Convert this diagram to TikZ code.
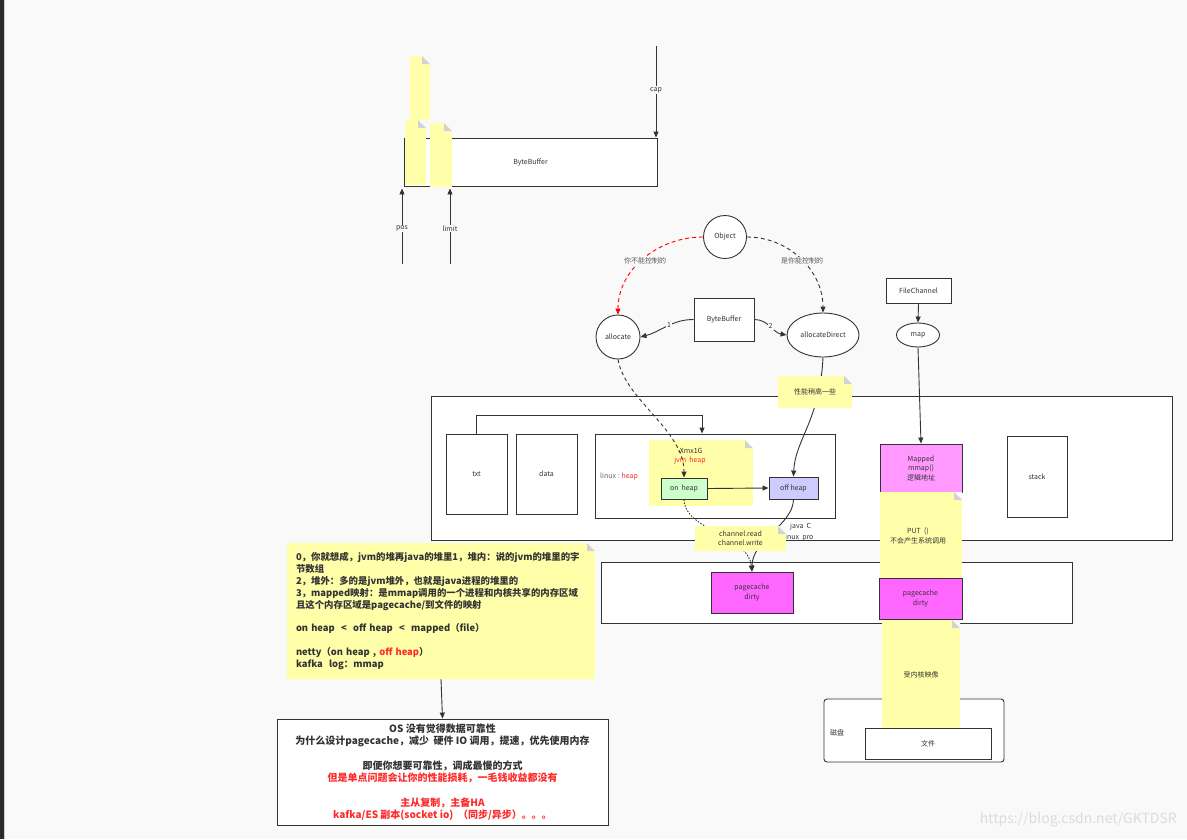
\documentclass[tikz,border=0pt]{standalone}
\usepackage{fontspec}
\setmainfont{Noto Sans CJK SC}
\usetikzlibrary{shapes.geometric,arrows.meta}
\definecolor{bgc}{HTML}{F9F9F9}
\definecolor{linec}{HTML}{333333}
\definecolor{notey}{HTML}{FFFFAA}
\definecolor{foldc}{HTML}{D2D2D2}
\definecolor{redc}{HTML}{FF2A2A}
\definecolor{onheapc}{HTML}{CCFFCC}
\definecolor{offheapc}{HTML}{CCCCFF}
\definecolor{mappedc}{HTML}{FF99FF}
\definecolor{pagec}{HTML}{FF66FF}
\definecolor{wmc}{HTML}{DCDCDC}
\definecolor{stripc}{HTML}{2A2A2A}
\begin{document}
\begin{tikzpicture}[x=1pt,y=-1pt,
  font=\fontsize{7}{9.5}\selectfont,
  box/.style={draw=linec, line width=0.9pt, fill=white, inner sep=0pt, text=linec, align=center},
  stickynote/.style={fill=notey, draw=none, inner sep=0pt, text=linec, align=center,
    path picture={
      \fill[#1] ([xshift=-8pt]path picture bounding box.north east) -- (path picture bounding box.north east) -- ([yshift=-8pt]path picture bounding box.north east) -- cycle;
      \fill[foldc] ([xshift=-8pt]path picture bounding box.north east) -- ([xshift=-8pt,yshift=-8pt]path picture bounding box.north east) -- ([yshift=-8pt]path picture bounding box.north east) -- cycle;
    }},
  stickynote/.default=bgc,
  arr/.style={-{Triangle[length=6pt,width=5pt]}, draw=linec, line width=0.9pt},
  lbl/.style={inner sep=1pt, text=linec}
]
\useasboundingbox (0,0) rectangle (1187,839);
\fill[bgc] (0,0) rectangle (1187,839);
\fill[stripc] (0,0) rectangle (4,839);
\fill[black!20] (4,0) rectangle (5,839);

% ---------- top ByteBuffer ----------
\node[box, minimum width=253pt, minimum height=48pt] (bb) at (530.5,162) {ByteBuffer};
\node[stickynote, minimum width=20pt, minimum height=64pt] (n1) at (420,88) {};
\node[stickynote, minimum width=21pt, minimum height=65pt] (n2) at (415.5,152.5) {};
\node[stickynote, minimum width=22pt, minimum height=64pt] (n3) at (441,155) {};
\coordinate (capT) at (656,46);
\coordinate (posB) at (402,264);
\coordinate (limB) at (450,264);
\draw[arr] (capT) -- (capT |- bb.north) node[pos=0.48, lbl, fill=bgc] {cap};
\draw[arr] (posB) -- ([yshift=-2pt]posB |- bb.south) node[pos=0.47, lbl, fill=bgc] {pos};
\draw[arr] (limB) -- ([yshift=-2pt]limB |- bb.south) node[pos=0.47, lbl, fill=bgc] {limit};

% ---------- Object / allocate ----------
\node[box, circle, minimum size=43pt] (obj) at (725,237) {Object};
\node[box, circle, minimum size=44pt] (alloc) at (618,337) {allocate};
\node[box, minimum width=60pt, minimum height=43pt] (bb2) at (724,319.5) {ByteBuffer};
\node[box, ellipse, minimum width=72pt, minimum height=44pt] (ad) at (823,335) {allocateDirect};
\draw[arr] (bb2.west) to[out=180, in=15] node[pos=0.45, lbl, fill=bgc] {1} (alloc.east);
\draw[arr] (bb2.east) to[out=0, in=170] node[pos=0.5, lbl, fill=bgc] {2} (ad.west);
\draw[arr, draw=red, dash pattern=on 4pt off 3pt, -{Triangle[length=6pt,width=5pt,fill=red]}] (obj.west) to[out=180, in=90] (alloc.north);
\draw[arr, dash pattern=on 4pt off 3pt] (obj.east) to[out=0, in=90] (ad.north);
\node[lbl, fill=bgc, text=black!65] (lblA) at (645,261) {你不能控制的};
\node[lbl, fill=bgc, text=black!65] (lblB) at (802,261) {是你能控制的};

% ---------- big memory box ----------
\node[box, minimum width=741pt, minimum height=144pt] (big) at (801.5,468) {};
\node[box, minimum width=61pt, minimum height=80pt] (txt) at (476.5,474) {txt};
\node[box, minimum width=61pt, minimum height=80pt] (data) at (546.5,474) {data};
\node[box, minimum width=240pt, minimum height=84pt] (linux) at (715,476) {};
\draw[arr] (txt.north) -- ++(0,-18) -| ([xshift=-13pt]linux.north);
\node[lbl, anchor=west, text=black!60] (linuxlbl) at (599,477) {linux : {\color{redc}heap}};
\node[stickynote=white, minimum width=104pt, minimum height=66pt] (xnote) at (701,473) {};
\node[lbl, align=center] (xmx) at (690,456) {-Xmx1G\\{\color{redc}jvm\ \ heap}};
\node[box, fill=onheapc, minimum width=46pt, minimum height=21pt] (onheap) at (684,488.5) {on\ \ heap};
\node[box, fill=offheapc, minimum width=49pt, minimum height=22pt] (offheap) at (793.5,488) {off heap};
\node[box, minimum width=60pt, minimum height=81pt] (stack) at (1037,476.5) {stack};
\node[box, fill=mappedc, minimum width=82pt, minimum height=48pt] (mapped) at (921,468) {Mapped\\mmap()\\逻辑地址};
\node[box, minimum width=65pt, minimum height=25pt] (fc) at (918.5,290.5) {FileChannel};
\node[box, ellipse, minimum width=43pt, minimum height=24pt] (map) at (918,335) {map};

% ---------- pagecache box ----------
\node[box, minimum width=471pt, minimum height=61pt] (lower) at (836.5,592.5) {};
\node[box, fill=pagec, minimum width=82pt, minimum height=41pt] (pc1) at (752,592.5) {pagecache\\dirty};

% ---------- connectors ----------
\draw[arr, dash pattern=on 3.5pt off 3pt] (alloc.south) .. controls (625,400) and (684,430) .. (onheap.north);
\draw[arr] (ad.south) .. controls (820,420) and (795,440) .. (offheap.north);
\draw[arr] (onheap.east) -- (offheap.west);
\draw[arr, dash pattern=on 1.5pt off 1.5pt] (onheap.south) .. controls (684,530) and (748,535) .. (pc1.north);
\draw[arr] (offheap.south) .. controls (793,525) and (752,540) .. (pc1.north);
\draw[arr] (fc.south) -- (map.north);
\draw[arr] (map.south) -- (mapped.north);

\node[lbl, anchor=west] (javac) at (789,527) {java\ \ C};
\node[lbl, anchor=west] (linuxpro) at (782,538) {linux\ \ pro};
\node[stickynote, minimum width=91pt, minimum height=25pt] (chnote) at (740.5,538.5) {channel.read\\channel.write};
\node[stickynote, minimum width=74pt, minimum height=32pt] (perf) at (815,392) {性能稍高一些};

% ---------- right column ----------
\node[stickynote=white, minimum width=82pt, minimum height=88pt] (putnote) at (921,536) {};
\node[lbl, align=center] (puttext) at (918,536) {PUT\ \ ()\\不会产生系统调用};
\node[box, fill=pagec, minimum width=83pt, minimum height=41pt] (pc2) at (920.5,598.5) {pagecache\\dirty};
\node[box, rounded corners=3pt, minimum width=180pt, minimum height=63pt] (disk) at (914,730.5) {};
\node[lbl, anchor=west] (disklbl) at (829,733) {磁盘};
\node[stickynote, minimum width=78pt, minimum height=109pt] (kernote) at (921,674.5) {受内核映像};
\node[box, minimum width=126pt, minimum height=31pt] (wj) at (928,743.5) {文件};

% ---------- notes left ----------
\node[stickynote, minimum width=308pt, minimum height=136pt, text width=290pt, align=left,
      font=\fontsize{9.4}{11.8}\selectfont\bfseries] (bignote) at (441,611)
 {0，你就想成，jvm的堆再java的堆里1，堆内：说的jvm的堆里的字\\
  节数组\\
  2，堆外：多的是jvm堆外，也就是java进程的堆里的\\
  3，mapped映射：是mmap调用的一个进程和内核共享的内存区域\\
  且这个内存区域是pagecache/到文件的映射\\
  ~\\
  on heap\ \ <\ \ off heap\ \ <\ \ mapped（file）\\
  ~\\
  netty（on heap , {\color{redc}off heap}）\\
  kafka\ \ log：mmap};
\node[box, minimum width=331pt, minimum height=106pt, font=\fontsize{10}{12.3}\selectfont\bfseries] (osbox) at (442.5,772)
 {OS 没有觉得数据可靠性\\
  为什么设计pagecache，减少\ \ 硬件 IO 调用，提速，优先使用内存\\
  ~\\
  即便你想要可靠性，调成最慢的方式\\
  {\color{redc}但是单点问题会让你的性能损耗，一毛钱收益都没有}\\
  ~\\
  {\color{redc}主从复制，主备HA}\\
  {\color{redc}kafka/ES 副本(socket io)\ \ （同步/异步）。。。}};
\draw[arr] (bignote.south) -- (osbox.north);

% ---------- watermark ----------
\node[anchor=east, text=wmc, inner sep=0pt, font=\fontsize{14}{16}\selectfont] (wm) at (1177,820) {https://blog.csdn.net/GKTDSR};
\end{tikzpicture}
\end{document}
